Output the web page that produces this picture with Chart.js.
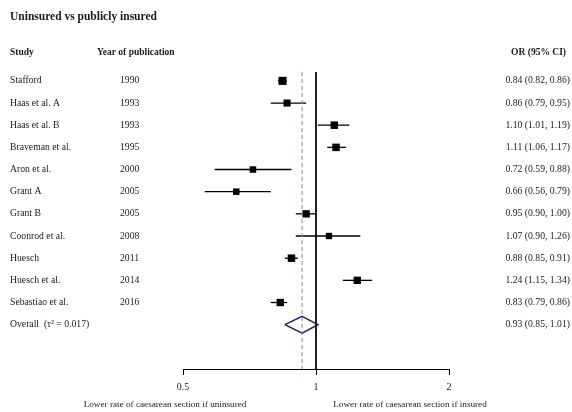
<!DOCTYPE html>
<html>
<head>
<meta charset="utf-8">
<script src="https://cdn.jsdelivr.net/npm/chart.js@4.4.1/dist/chart.umd.min.js"></script>
<style>
  html, body { margin: 0; padding: 0; background: #fff; }
  #wrap { width: 572px; height: 412px; }
</style>
</head>
<body>
<div id="wrap"><canvas id="forestChart"></canvas></div>
<script>
// Study data
const studies = ['Stafford', 'Haas et al. A', 'Haas et al. B', 'Braveman et al.', 'Aron et al.',
    'Grant A', 'Grant B', 'Coonrod et al.', 'Huesch', 'Huesch et al.', 'Sebastiao et al.'];
const years = [1990, 1993, 1993, 1995, 2000, 2005, 2005, 2008, 2011, 2014, 2016];
const oddsRatio = [0.84, 0.86, 1.10, 1.11, 0.72, 0.66, 0.95, 1.07, 0.88, 1.24, 0.83];
const ciLower = [0.82, 0.79, 1.01, 1.06, 0.59, 0.56, 0.90, 0.90, 0.85, 1.15, 0.79];
const ciUpper = [0.86, 0.95, 1.19, 1.17, 0.88, 0.79, 1.00, 1.26, 0.91, 1.34, 0.86];
const overallLabel = 'Overall  (\u03c4\u00b2 = 0.017)';
const overallEstimate = [0.93, 0.85, 1.01];   // OR, lower, upper
const xTicks = [0.5, 1, 2];

const serif = '"Liberation Serif", "Times New Roman", serif';
const overallRow = studies.length;
const yTop = -0.4, yBottom = 13;
const boxRadius = [5.7, 5, 5.3, 5.3, 4.6, 4.6, 5.2, 4.5, 5.3, 5.2, 5.2];

function fmt(v) { return v.toFixed(2); }

// one short line dataset per study for its confidence interval
const ciDatasets = studies.map(function(s, i) {
    return {
        data: [{ x: ciLower[i], y: i }, { x: ciUpper[i], y: i }],
        showLine: true,
        borderColor: '#000',
        borderWidth: 1.3,
        pointRadius: 0
    };
});

const points = oddsRatio.map(function(v, i) { return { x: v, y: i }; });

const diamond = [
    { x: overallEstimate[1], y: overallRow },
    { x: overallEstimate[0], y: overallRow - 0.38 },
    { x: overallEstimate[2], y: overallRow },
    { x: overallEstimate[0], y: overallRow + 0.38 },
    { x: overallEstimate[1], y: overallRow }
];

const textPlugin = {
    id: 'forestText',
    afterDraw(chart) {
        const ctx = chart.ctx;
        const yScale = chart.scales.y;
        ctx.save();
        ctx.fillStyle = '#1a1a1a';
        ctx.textBaseline = 'middle';

        ctx.font = 'bold 11.5px ' + serif;
        ctx.textAlign = 'left';
        ctx.fillText('Uninsured vs publicly insured', 10, 17);

        ctx.font = 'bold 9.5px ' + serif;
        ctx.fillText('Study', 10, 53);
        ctx.fillText('Year of publication', 97, 53);
        ctx.textAlign = 'right';
        ctx.fillText('OR (95% CI)', 566, 53);

        ctx.font = '9.7px ' + serif;
        studies.forEach(function(s, i) {
            const y = yScale.getPixelForValue(i);
            ctx.textAlign = 'left';
            ctx.fillText(s, 10, y);
            ctx.fillText(String(years[i]), 120, y);
            ctx.textAlign = 'right';
            ctx.fillText(fmt(oddsRatio[i]) + ' (' + fmt(ciLower[i]) + ', ' + fmt(ciUpper[i]) + ')', 570, y);
        });
        const oy = yScale.getPixelForValue(overallRow);
        ctx.textAlign = 'left';
        ctx.fillText(overallLabel, 10, oy);
        ctx.textAlign = 'right';
        ctx.fillText(fmt(overallEstimate[0]) + ' (' + fmt(overallEstimate[1]) + ', ' + fmt(overallEstimate[2]) + ')', 570, oy);

        ctx.font = '9.2px ' + serif;
        ctx.textAlign = 'center';
        ctx.fillText('Lower rate of caesarean section if uninsured', 165, 405);
        ctx.fillText('Lower rate of caesarean section if insured', 410, 405);
        ctx.restore();
    }
};

new Chart(document.getElementById('forestChart'), {
    type: 'scatter',
    data: {
        datasets: [
            {
                // dashed line at pooled estimate
                data: [{ x: overallEstimate[0], y: yTop }, { x: overallEstimate[0], y: yBottom }],
                showLine: true,
                borderColor: '#b07a80',
                borderWidth: 1,
                borderDash: [4, 3],
                pointRadius: 0
            },
            {
                // line of no effect
                data: [{ x: 1, y: yTop }, { x: 1, y: yBottom }],
                showLine: true,
                borderColor: '#000',
                borderWidth: 1,
                pointRadius: 0
            }
        ].concat(ciDatasets, [
            {
                data: points,
                pointStyle: 'rect',
                pointRadius: boxRadius,
                backgroundColor: '#000',
                borderColor: '#000',
                borderWidth: 0
            },
            {
                data: diamond,
                showLine: true,
                borderColor: '#1c2170',
                borderWidth: 1.5,
                pointRadius: 0,
                tension: 0
            }
        ])
    },
    options: {
        responsive: true,
        maintainAspectRatio: false,
        animation: false,
        layout: { padding: { left: 183, right: 123, top: 72, bottom: 13 } },
        plugins: {
            legend: { display: false },
            tooltip: { enabled: false }
        },
        scales: {
            x: {
                type: 'logarithmic',
                min: 0.5,
                max: 2,
                afterBuildTicks: function(scale) {
                    scale.ticks = xTicks.map(function(v) { return { value: v }; });
                },
                ticks: {
                    color: '#1a1a1a',
                    font: { family: serif, size: 10 },
                    padding: 6,
                    maxRotation: 0,
                    autoSkip: false,
                    callback: function(value) { return String(value); }
                },
                grid: { drawOnChartArea: false, drawTicks: true, tickLength: 6, color: '#000' },
                border: { display: true, color: '#000', width: 1 }
            },
            y: {
                type: 'linear',
                reverse: true,
                min: yTop,
                max: yBottom,
                display: false
            }
        }
    },
    plugins: [textPlugin]
});
</script>
</body>
</html>
